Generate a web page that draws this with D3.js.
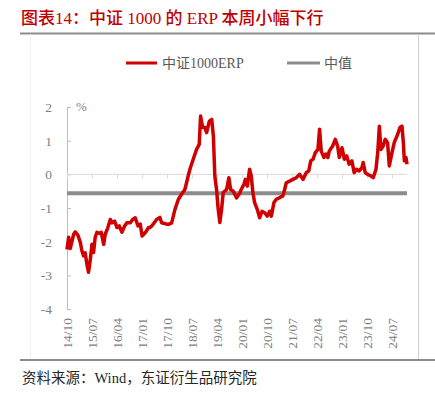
<!DOCTYPE html>
<html>
<head>
<meta charset="utf-8">
<script src="https://cdn.jsdelivr.net/npm/d3@7"></script>
<style>
html,body{margin:0;padding:0;background:#fff;}
svg{display:block;}
</style>
</head>
<body>
<svg id="chart" width="435" height="394"></svg>
<script>
const titleText = "图表14：中证 1000 的 ERP 本周小幅下行";
const sourceText = "资料来源：Wind，东证衍生品研究院";
const seriesNames = ["中证1000ERP", "中值"];
const medianValue = -0.56;
const yTicks = [-4, -3, -2, -1, 0, 1, 2];
const xTickDates = ["2014-10-01","2015-07-01","2016-04-01","2017-01-01","2017-10-01","2018-07-01","2019-04-01","2020-01-01","2020-10-01","2021-07-01","2022-04-01","2023-01-01","2023-10-01","2024-07-01"];
const xTickLabels = ["14/10","15/07","16/04","17/01","17/10","18/07","19/04","20/01","20/10","21/07","22/04","23/01","23/10","24/07"];
const dates = ["2014-10-01","2014-10-19","2014-11-06","2014-12-13","2014-12-30","2015-01-29","2015-02-24","2015-03-13","2015-04-01","2015-04-18","2015-05-07","2015-05-25","2015-06-12","2015-07-01","2015-07-19","2015-08-06","2015-08-25","2015-09-19","2015-10-11","2015-11-07","2015-11-24","2015-12-23","2016-01-18","2016-02-07","2016-03-06","2016-04-01","2016-04-26","2016-05-25","2016-06-24","2016-07-19","2016-08-25","2016-09-20","2016-10-18","2016-11-17","2016-12-12","2017-01-01","2017-02-06","2017-03-13","2017-03-27","2017-04-19","2017-06-09","2017-07-15","2017-08-03","2017-09-27","2017-10-22","2017-11-21","2017-12-27","2018-02-03","2018-03-10","2018-04-15","2018-05-21","2018-06-09","2018-07-15","2018-08-21","2018-09-19","2018-10-04","2018-10-26","2018-11-21","2018-12-09","2019-01-08","2019-02-03","2019-02-21","2019-03-09","2019-03-28","2019-04-15","2019-05-03","2019-05-22","2019-06-09","2019-07-16","2019-08-10","2019-08-29","2019-09-27","2019-11-03","2019-12-09","2019-12-23","2020-01-22","2020-02-06","2020-02-28","2020-03-24","2020-04-11","2020-04-29","2020-05-18","2020-06-16","2020-07-12","2020-08-07","2020-09-06","2020-10-04","2020-10-30","2020-11-17","2020-12-16","2021-01-11","2021-02-18","2021-03-24","2021-04-12","2021-04-30","2021-06-06","2021-07-12","2021-08-17","2021-09-24","2021-10-30","2021-12-05","2022-01-01","2022-01-23","2022-02-18","2022-03-13","2022-04-12","2022-04-30","2022-05-18","2022-06-17","2022-07-08","2022-07-30","2022-08-14","2022-09-20","2022-10-19","2022-11-14","2022-12-02","2023-01-01","2023-01-26","2023-02-21","2023-03-20","2023-04-19","2023-05-14","2023-06-09","2023-07-08","2023-08-07","2023-08-21","2023-09-12","2023-10-08","2023-11-14","2023-12-09","2024-01-08","2024-01-27","2024-02-14","2024-03-02","2024-03-27","2024-04-18","2024-05-14","2024-06-02","2024-07-01","2024-07-26","2024-09-02","2024-09-27","2024-10-19","2024-11-03","2024-11-14","2024-12-02","2024-12-13"];
const erpValues = [-2.23,-1.87,-2.2,-1.78,-1.71,-1.81,-2.02,-2.27,-2.42,-2.33,-2.67,-2.91,-2.57,-2.08,-2.32,-1.87,-1.72,-1.75,-1.72,-2.08,-1.78,-1.58,-1.34,-1.44,-1.39,-1.58,-1.53,-1.72,-1.53,-1.44,-1.44,-1.34,-1.29,-1.53,-1.48,-1.83,-1.73,-1.58,-1.58,-1.53,-1.34,-1.28,-1.44,-1.48,-1.48,-1.44,-1.04,-0.74,-0.59,-0.45,-0.05,0.15,0.45,0.74,0.89,1.73,1.39,1.39,1.24,1.58,1.63,1.14,-0.05,-0.45,-1.04,-1.43,-1.04,-0.54,-0.45,-0.1,-0.45,-0.5,-0.7,-0.55,-0.45,-0.3,-0.15,-0.35,0.15,-0.05,-0.54,-0.84,-1.04,-1.29,-1.1,-1.14,-1.24,-1.1,-1.24,-0.84,-0.74,-0.69,-0.64,-0.45,-0.25,-0.2,-0.15,-0.1,0,-0.15,0.05,0.1,0.4,0.45,0.64,0.74,1.34,0.69,0.5,0.6,0.5,0.69,0.84,1.04,0.84,0.5,0.79,0.45,0.55,0.3,0.4,0.05,0.15,0.1,0.2,0.35,0.05,0,-0.05,-0.1,0.15,0.64,1.43,0.74,0.84,1.04,0.94,0.25,0.64,0.94,1.19,1.39,1.43,0.94,0.4,0.5,0.3];

const parse = d3.timeParse("%Y-%m-%d");
const data = dates.map((d, i) => ({date: parse(d), value: erpValues[i]}));
const svg = d3.select("#chart");
const serifFont = "'Liberation Serif','Noto Sans CJK SC',serif";
const gray = "#7f7f7f";

const x = d3.scaleTime().domain([parse("2014-10-01"), parse("2024-12-13")]).range([67, 407]);
const y = d3.scaleLinear().domain([-4, 2]).range([309, 107]);

// Title
svg.append("text").attr("x", 21).attr("y", 24)
  .attr("font-family", serifFont)
  .attr("font-size", 17).attr("font-weight", 500).attr("fill", "#c00000")
  .text(titleText);
svg.append("line").attr("x1", 20).attr("x2", 435).attr("y1", 33.5).attr("y2", 33.5)
  .attr("stroke", "#8c8c8c").attr("stroke-width", 2);
// frame
svg.append("line").attr("x1", 418.5).attr("x2", 418.5).attr("y1", 34).attr("y2", 359)
  .attr("stroke", "#d0d0d0").attr("stroke-width", 1);
svg.append("line").attr("x1", 30.5).attr("x2", 30.5).attr("y1", 34).attr("y2", 359)
  .attr("stroke", "#f2f2f2").attr("stroke-width", 1);
// bottom rule
svg.append("line").attr("x1", 20).attr("x2", 435).attr("y1", 360).attr("y2", 360)
  .attr("stroke", "#8c8c8c").attr("stroke-width", 2);
svg.append("text").attr("x", 22).attr("y", 383)
  .attr("font-family", serifFont).attr("font-size", 14.5).attr("fill", "#262626")
  .text(sourceText);

// Legend
const leg = svg.append("g");
leg.append("line").attr("x1", 126).attr("x2", 157).attr("y1", 63).attr("y2", 63)
  .attr("stroke", "#d00000").attr("stroke-width", 3);
leg.append("text").attr("x", 162).attr("y", 68).attr("font-family", serifFont)
  .attr("font-size", 14).attr("fill", "#595959").text(seriesNames[0]);
leg.append("line").attr("x1", 287).attr("x2", 320).attr("y1", 63).attr("y2", 63)
  .attr("stroke", "#8c8c8c").attr("stroke-width", 3);
leg.append("text").attr("x", 324).attr("y", 68).attr("font-family", serifFont)
  .attr("font-size", 14).attr("fill", "#595959").text(seriesNames[1]);

// Y axis
const yAxis = d3.axisRight(y).tickValues(yTicks).tickSize(4).tickFormat("");
const gy = svg.append("g").attr("transform", "translate(67,0)").call(yAxis);
gy.select(".domain").attr("stroke", "#bfbfbf");
gy.selectAll(".tick line").attr("stroke", "#bfbfbf");
svg.append("g").selectAll("text").data(yTicks).join("text")
  .attr("x", 52).attr("y", d => y(d) + 5).attr("text-anchor", "end")
  .attr("font-family", serifFont).attr("font-size", 13.5).attr("fill", gray)
  .text(d => d);
svg.append("text").attr("x", 76).attr("y", 111).attr("font-family", serifFont)
  .attr("font-size", 13).attr("fill", gray).text("%");

// X axis at zero
const xAxis = d3.axisBottom(x).tickValues(xTickDates.map(parse)).tickSize(4).tickFormat("");
const gx = svg.append("g").attr("transform", `translate(0,${y(0)})`).call(xAxis);
gx.select(".domain").attr("stroke", "#d9d9d9").attr("d", `M67,0H407`);
gx.selectAll(".tick line").attr("stroke", "#d9d9d9");
svg.append("g").selectAll("text").data(xTickDates).join("text")
  .attr("transform", (d) => `translate(${x(parse(d)) + 5},318) rotate(-90)`)
  .attr("text-anchor", "end")
  .attr("font-family", serifFont).attr("font-size", 13.5).attr("fill", gray)
  .text((d, i) => xTickLabels[i]);

// Median line
svg.append("line").attr("x1", x.range()[0]).attr("x2", x.range()[1])
  .attr("y1", y(medianValue)).attr("y2", y(medianValue))
  .attr("stroke", "#8c8c8c").attr("stroke-width", 4);

// ERP line
const line = d3.line().x(d => x(d.date)).y(d => y(d.value));
svg.append("path").datum(data).attr("d", line)
  .attr("fill", "none").attr("stroke", "#d00000").attr("stroke-width", 3.5)
  .attr("stroke-linejoin", "round");
</script>
</body>
</html>
